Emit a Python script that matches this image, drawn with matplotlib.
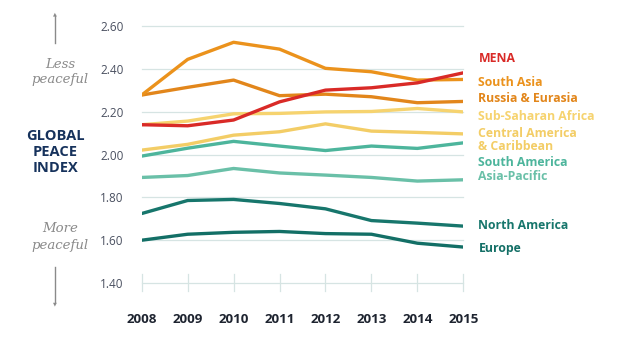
import matplotlib.pyplot as plt

years = [2008, 2009, 2010, 2011, 2012, 2013, 2014, 2015]

regions = ["MENA", "South Asia", "Russia & Eurasia", "Sub-Saharan Africa",
           "Central America\n& Caribbean", "South America", "Asia-Pacific",
           "North America", "Europe"]

mena = [2.140, 2.135, 2.162, 2.247, 2.302, 2.313, 2.336, 2.383]
south_asia = [2.279, 2.446, 2.526, 2.494, 2.404, 2.388, 2.349, 2.352]
russia = [2.279, 2.315, 2.349, 2.276, 2.283, 2.271, 2.243, 2.249]
ssa = [2.140, 2.157, 2.191, 2.193, 2.200, 2.202, 2.216, 2.200]
central_am = [2.021, 2.048, 2.091, 2.107, 2.144, 2.110, 2.104, 2.097]
south_am = [1.993, 2.030, 2.062, 2.040, 2.019, 2.040, 2.029, 2.055]
asia_pac = [1.893, 1.902, 1.935, 1.914, 1.904, 1.893, 1.876, 1.882]
north_am = [1.724, 1.785, 1.790, 1.771, 1.746, 1.691, 1.679, 1.665]
europe = [1.599, 1.627, 1.636, 1.640, 1.630, 1.627, 1.585, 1.567]

series = [mena, south_asia, russia, ssa, central_am, south_am, asia_pac, north_am, europe]
colors = ["#d92a27", "#eb921c", "#e2861b", "#f6d36f", "#f3cd66",
          "#4db59c", "#6ac0a8", "#17766c", "#136f66"]
# where the end labels sit (data units)
label_y = [2.452, 2.336, 2.263, 2.180, 2.068, 1.961, 1.896, 1.669, 1.558]

yticks = [1.40, 1.60, 1.80, 2.00, 2.20, 2.40, 2.60]

font = "Open Sans"

fig = plt.figure(figsize=(6.3, 3.38), dpi=100)
ax = fig.add_axes([0.2249, 0.1636, 0.5105, 0.758])

for yt in yticks:
    ax.axhline(yt, color="#d6e4e3", lw=0.9, zorder=1, clip_on=False)
for x in years:
    ax.plot([x, x], [1.36, 1.44], color="#d6e4e3", lw=0.9, clip_on=False, zorder=1)

# draw bottom series first so the top ones overlap like the original
for vals, c in zip(series[::-1], colors[::-1]):
    ax.plot(years, vals, color=c, lw=2.4, solid_capstyle="butt", zorder=3)

for name, c, ly in zip(regions, colors, label_y):
    ax.text(2015.33, ly, name, color=c, fontsize=8.8, fontweight="bold",
            family=font, va="center", ha="left", linespacing=1.0)

ax.set_xlim(2008, 2015)
ax.set_ylim(1.40, 2.60)
ax.set_yticks(yticks)
ax.set_yticklabels([f"{v:.2f}" for v in yticks])
ax.set_xticks(years)
ax.set_xticklabels([str(y) for y in years])
for s in ax.spines.values():
    s.set_visible(False)
ax.tick_params(axis="y", length=0, pad=13, labelsize=8.5, labelcolor="#4a5060")
ax.tick_params(axis="x", length=0, pad=22, labelsize=9.6, labelcolor="#1e2430")
for t in ax.get_yticklabels():
    t.set_family(font)
for t in ax.get_xticklabels():
    t.set_family(font)
    t.set_fontweight("bold")

# left side annotation
fig.text(60 / 630, 1 - 72 / 338, "Less\npeaceful", ha="center", va="center",
         fontsize=9.5, style="italic", family="DejaVu Serif", color="#8a8a8a", linespacing=1.3)
fig.text(60 / 630, 1 - 237 / 338, "More\npeaceful", ha="center", va="center",
         fontsize=9.5, style="italic", family="DejaVu Serif", color="#8a8a8a", linespacing=1.3)
fig.text(55 / 630, 1 - 152 / 338, "GLOBAL\nPEACE\nINDEX", ha="center", va="center",
         fontsize=10.5, fontweight="bold", family=font, color="#16325c", linespacing=1.15)
fig.add_artist(plt.Line2D([55 / 630, 55 / 630], [1 - 43 / 338, 1 - 15 / 338],
                          color="#8a8a8a", lw=1.0))
fig.add_artist(plt.Line2D([55 / 630, 55 / 630], [1 - 267 / 338, 1 - 303 / 338],
                          color="#8a8a8a", lw=1.0))
fig.text(55 / 630, 1 - 14 / 338, "\u25b2", ha="center", va="center", fontsize=3.5, color="#8a8a8a")
fig.text(55 / 630, 1 - 304 / 338, "\u25bc", ha="center", va="center", fontsize=3.5, color="#8a8a8a")

fig.savefig("out.png", dpi=100, facecolor="white")
